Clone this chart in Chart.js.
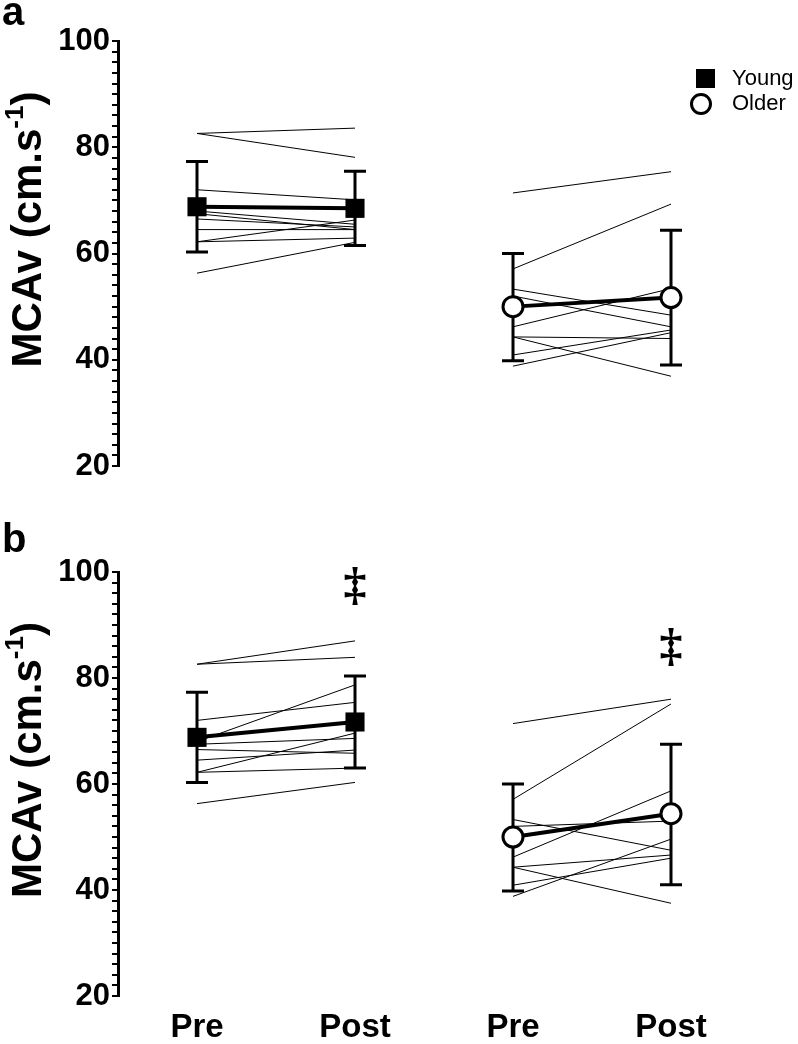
<!DOCTYPE html>
<html>
<head>
<meta charset="utf-8">
<script src="https://cdn.jsdelivr.net/npm/chart.js@4.4.1/dist/chart.umd.min.js"></script>
<style>
  html, body { margin: 0; padding: 0; background: #fff; }
  #wrap { position: relative; width: 798px; height: 1044px; }
  canvas { position: absolute; left: 0; }
  #chartA { top: 0; }
  #chartB { top: 522px; }
</style>
</head>
<body>
<div id="wrap">
  <canvas id="chartA" width="798" height="522"></canvas>
  <canvas id="chartB" width="798" height="522"></canvas>
</div>
<script>
const timeLabels = ['Pre', 'Post', 'Pre', 'Post'];

// individual subjects (same pre values in both panels)
const youngPre   = [82.6, 82.6, 72.0, 68.0, 67.5, 66.5, 64.5, 62.2, 62.2, 56.3];
const youngPostA = [83.6, 78.1, 70.1, 65.5, 64.5, 65.0, 64.5, 66.3, 62.9, 62.1];
const youngPostB = [87.0, 83.9, 75.4, 78.7, 68.6, 65.8, 66.4, 69.6, 63.0, 60.3];
const olderPre   = [71.4, 57.1, 53.3, 52.0, 46.2, 44.3, 44.3, 40.9, 38.8];
const olderPostA = [75.4, 69.3, 48.4, 46.2, 53.4, 44.0, 36.9, 45.6, 45.1];
const olderPostB = [76.0, 75.1, 47.5, 53.0, 58.7, 46.6, 37.5, 46.0, 49.6];

// group means and error bar ends (young pre, young post, older pre, older post)
const meanA  = [68.8, 68.5, 50.0, 51.7];
const upperA = [77.3, 75.5, 60.0, 64.4];
const lowerA = [60.3, 61.5, 39.8, 39.0];
const meanB  = [68.8, 71.7, 50.0, 54.4];
const upperB = [77.3, 80.4, 60.0, 67.5];
const lowerB = [60.3, 63.0, 39.8, 41.0];

// significance markers in panel b
const daggerX = [1, 3];
const daggerY = [97.2, 85.7];

const FONT = 'Arial, "Liberation Sans", sans-serif';

const decor = {
  id: 'decor',
  beforeDatasetsDraw(chart, args, o) {
    const { ctx } = chart;
    const xs = chart.scales.x, ys = chart.scales.y;
    ctx.save();
    ctx.strokeStyle = '#000';
    ctx.lineWidth = 3;
    for (let i = 0; i < o.upper.length; i++) {
      const x = xs.getPixelForValue(i);
      const t = ys.getPixelForValue(o.upper[i]);
      const b = ys.getPixelForValue(o.lower[i]);
      ctx.beginPath();
      ctx.moveTo(x, t); ctx.lineTo(x, b);
      ctx.moveTo(x - 11, t); ctx.lineTo(x + 11, t);
      ctx.moveTo(x - 11, b); ctx.lineTo(x + 11, b);
      ctx.stroke();
    }
    ctx.restore();
  },
  afterDraw(chart, args, o) {
    const { ctx, chartArea } = chart;
    const xs = chart.scales.x, ys = chart.scales.y;
    ctx.save();
    ctx.fillStyle = '#000';

    // panel letter
    ctx.font = 'bold 40px ' + FONT;
    ctx.textAlign = 'left';
    ctx.textBaseline = 'alphabetic';
    ctx.fillText(o.letter, 2, o.letterY);

    // y axis title with superscript
    const cy = (chartArea.top + chartArea.bottom) / 2 - 24;
    ctx.translate(41, cy);
    ctx.rotate(-Math.PI / 2);
    const big = 'bold 42px ' + FONT, small = 'bold 26px ' + FONT;
    const p1 = 'MCAv (cm.s', p2 = '-1', p3 = ')';
    ctx.font = big; const w1 = ctx.measureText(p1).width, w3 = ctx.measureText(p3).width;
    ctx.font = small; const w2 = ctx.measureText(p2).width;
    let x0 = -(w1 + w2 + w3) / 2;
    ctx.font = big; ctx.fillText(p1, x0, 0);
    ctx.font = small; ctx.fillText(p2, x0 + w1, -18);
    ctx.font = big; ctx.fillText(p3, x0 + w1 + w2, 0);
    ctx.setTransform(1, 0, 0, 1, 0, 0);

    // legend
    if (o.legend) {
      ctx.fillRect(696, 69, 19, 19);
      ctx.beginPath();
      ctx.arc(701, 104, 9.5, 0, Math.PI * 2);
      ctx.fillStyle = '#fff'; ctx.fill();
      ctx.lineWidth = 3; ctx.strokeStyle = '#000'; ctx.stroke();
      ctx.fillStyle = '#000';
      ctx.font = '22px ' + FONT;
      ctx.textBaseline = 'middle';
      ctx.fillText('Young', 732, 79);
      ctx.fillText('Older', 732, 104);
    }

    // daggers
    if (o.daggers) {
      ctx.font = 'bold 46px "Liberation Serif", serif';
      ctx.textAlign = 'center';
      ctx.textBaseline = 'middle';
      daggerX.forEach((v, i) => {
        ctx.fillText('\u2021', xs.getPixelForValue(v), ys.getPixelForValue(daggerY[i]));
      });
    }
    ctx.restore();
  }
};

function subjectSets(pre, post, x0) {
  return pre.map((v, i) => ({
    data: [{ x: x0, y: v }, { x: x0 + 1, y: post[i] }],
    borderColor: '#000',
    borderWidth: 1,
    pointRadius: 0,
    order: 2,
  }));
}

function makeChart(id, postYoung, postOlder, mean, upper, lower, opt) {
  const datasets = [
    ...subjectSets(youngPre, postYoung, 0),
    ...subjectSets(olderPre, postOlder, 2),
    {
      data: [{ x: 0, y: mean[0] }, { x: 1, y: mean[1] }],
      borderColor: '#000', borderWidth: 4,
      pointStyle: 'rect', pointRadius: 13.5,
      pointBackgroundColor: '#000', pointBorderColor: '#000', pointBorderWidth: 0,
      order: 0,
    },
    {
      data: [{ x: 2, y: mean[2] }, { x: 3, y: mean[3] }],
      borderColor: '#000', borderWidth: 4,
      pointStyle: 'circle', pointRadius: 10,
      pointBackgroundColor: '#fff', pointBorderColor: '#000', pointBorderWidth: 3,
      order: 0,
    },
  ];

  return new Chart(document.getElementById(id), {
    type: 'line',
    data: { datasets },
    plugins: [decor],
    options: {
      responsive: false,
      animation: false,
      devicePixelRatio: 1,
      layout: { padding: { top: opt.top, right: 48, bottom: opt.bottom, left: 0 } },
      plugins: {
        legend: { display: false },
        tooltip: { enabled: false },
        decor: {
          upper, lower,
          letter: opt.letter, letterY: opt.letterY,
          legend: opt.legend, daggers: opt.daggers,
        },
      },
      scales: {
        x: {
          type: 'linear', min: -0.5, max: 3.5,
          afterBuildTicks: (s) => { s.ticks = [0, 1, 2, 3].map(v => ({ value: v })); },
          afterFit: (s) => { s.height = opt.showX ? 48 : 0; },
          grid: { display: false },
          border: { display: false },
          ticks: {
            display: opt.showX,
            autoSkip: false,
            maxRotation: 0,
            padding: 4,
            color: '#000',
            font: { family: FONT, size: 33, weight: 'bold' },
            callback: (v) => timeLabels[v] ?? '',
          },
        },
        y: {
          min: 20, max: 100,
          afterBuildTicks: (s) => {
            const t = [];
            for (let v = 20; v <= 100; v += 2) t.push({ value: v });
            s.ticks = t;
          },
          afterFit: (s) => { s.width = 118; },
          grid: {
            display: true, drawOnChartArea: false, drawTicks: true,
            tickLength: 6, color: '#000', lineWidth: 2,
          },
          border: { display: true, color: '#000', width: 3 },
          ticks: {
            autoSkip: false,
            padding: 2,
            color: '#000',
            font: { family: FONT, size: 31, weight: 'bold' },
            callback: (v) => (v % 20 === 0 ? String(v) : ''),
          },
        },
      },
    },
  });
}

makeChart('chartA', youngPostA, olderPostA, meanA, upperA, lowerA,
  { top: 41, bottom: 56, showX: false, letter: 'a', letterY: 25, legend: true, daggers: false });
makeChart('chartB', youngPostB, olderPostB, meanB, upperB, lowerB,
  { top: 50, bottom: 0, showX: true, letter: 'b', letterY: 30, legend: false, daggers: true });
</script>
</body>
</html>
